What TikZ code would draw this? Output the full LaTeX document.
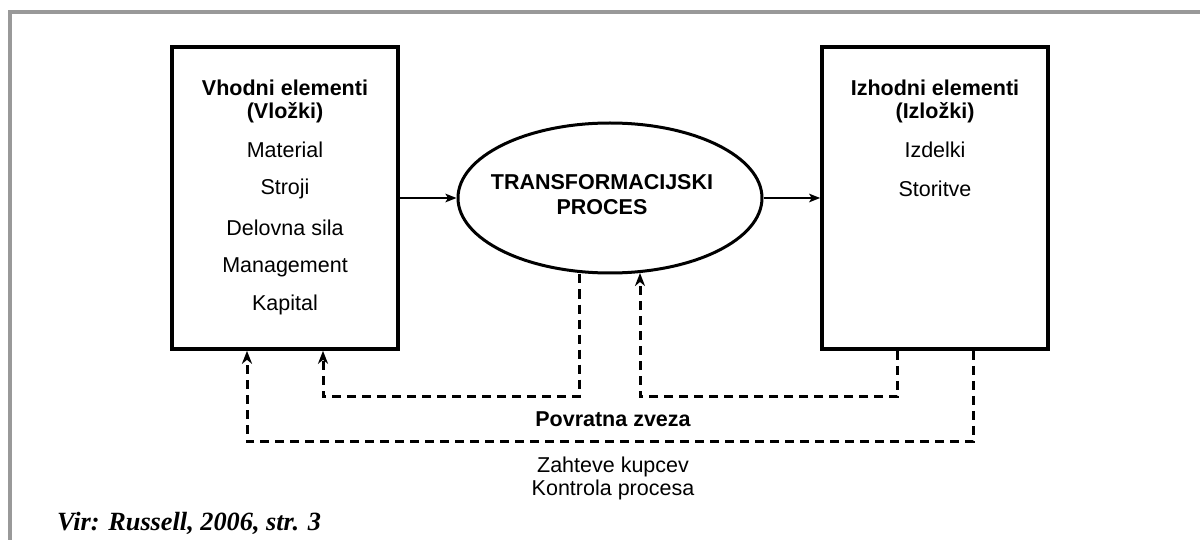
\documentclass[tikz,border=0pt]{standalone}
\usepackage{fontspec}
\setmainfont{Liberation Sans}
\newfontfamily\virfont{Liberation Serif}
\usetikzlibrary{shapes.geometric,arrows.meta,calc}
\definecolor{framegray}{HTML}{999999}
\begin{document}
\begin{tikzpicture}[x=1pt,y=-1pt,
  txt/.style={inner sep=0pt,font=\fontsize{21.5}{24}\selectfont},
  btxt/.style={txt,font=\fontsize{21.5}{24}\selectfont\bfseries},
  elembox/.style={draw,line width=3.6pt,minimum width=226pt,minimum height=302pt,inner sep=0pt},
  flow/.style={line width=2.6pt,-{Stealth[length=11pt,width=8.5pt,inset=2.5pt]}},
  fb/.style={line width=3pt,dash pattern=on 9pt off 6pt,-{Stealth[length=13pt,width=10pt,inset=4pt]}}]
\useasboundingbox (0,0) rectangle (1200,540);
% outer frame
\draw[framegray,line width=4pt] (9.5,540) -- (9.5,12.5) -- (1200,12.5);

% input / output boxes and the process ellipse
\node[elembox] (in) at (285,198) {};
\node[elembox] (out) at (935,198) {};
\node[draw,ellipse,line width=3pt,minimum width=304pt,minimum height=150pt,inner sep=0pt] (proc) at (610,198) {};

% texts of the input box
\node[btxt] (in1) at (285,88) {Vhodni elementi};
\node[btxt] (in2) at (285,113) {(Vložki)};
\node[txt] (in3) at (285,150) {Material};
\node[txt] (in4) at (285,189) {Stroji};
\node[txt] (in5) at (285,228) {Delovna sila};
\node[txt] (in6) at (285,267) {Management};
\node[txt] (in7) at (285,305) {Kapital};

% texts of the output box
\node[btxt] (out1) at (935,88) {Izhodni elementi};
\node[btxt] (out2) at (935,113) {(Izložki)};
\node[txt] (out3) at (935,150) {Izdelki};
\node[txt] (out4) at (935,189) {Storitve};

% process label
\node[btxt,align=center] (proclabel) at (602,195) {TRANSFORMACIJSKI\\[1pt]PROCES};

% main flow
\draw[flow] (in.east) -- (proc.west);
\draw[flow] (proc.east) -- (out.west);

% feedback loops
\coordinate (p1) at ($(proc.south)+(-31,0)$);
\coordinate (p2) at ($(proc.south)+(30,-1.5)$);
\coordinate (i1) at ($(in.south)+(38,0)$);
\coordinate (i2) at ($(in.south)+(-38,0)$);
\coordinate (o1) at ($(out.south)+(-38,0)$);
\coordinate (o2) at ($(out.south)+(38,0)$);
\draw[fb] (p1) -- ++(0,122) -| (i1);
\draw[fb] (o1) -- ++(0,46) -| (p2);
\draw[fb] (o2) -- ++(0,91) -| (i2);

% labels below
\node[btxt] (fbl) at (613,419) {Povratna zveza};
\node[txt] (req1) at (613,467) {Zahteve kupcev};
\node[txt] (req2) at (613,490) {Kontrola procesa};

% source
\node[inner sep=0pt,anchor=west,font=\virfont\fontsize{26.3}{30}\selectfont\bfseries\itshape] (src) at (57,523) {Vir: Russell, 2006, str. 3};
\end{tikzpicture}
\end{document}
